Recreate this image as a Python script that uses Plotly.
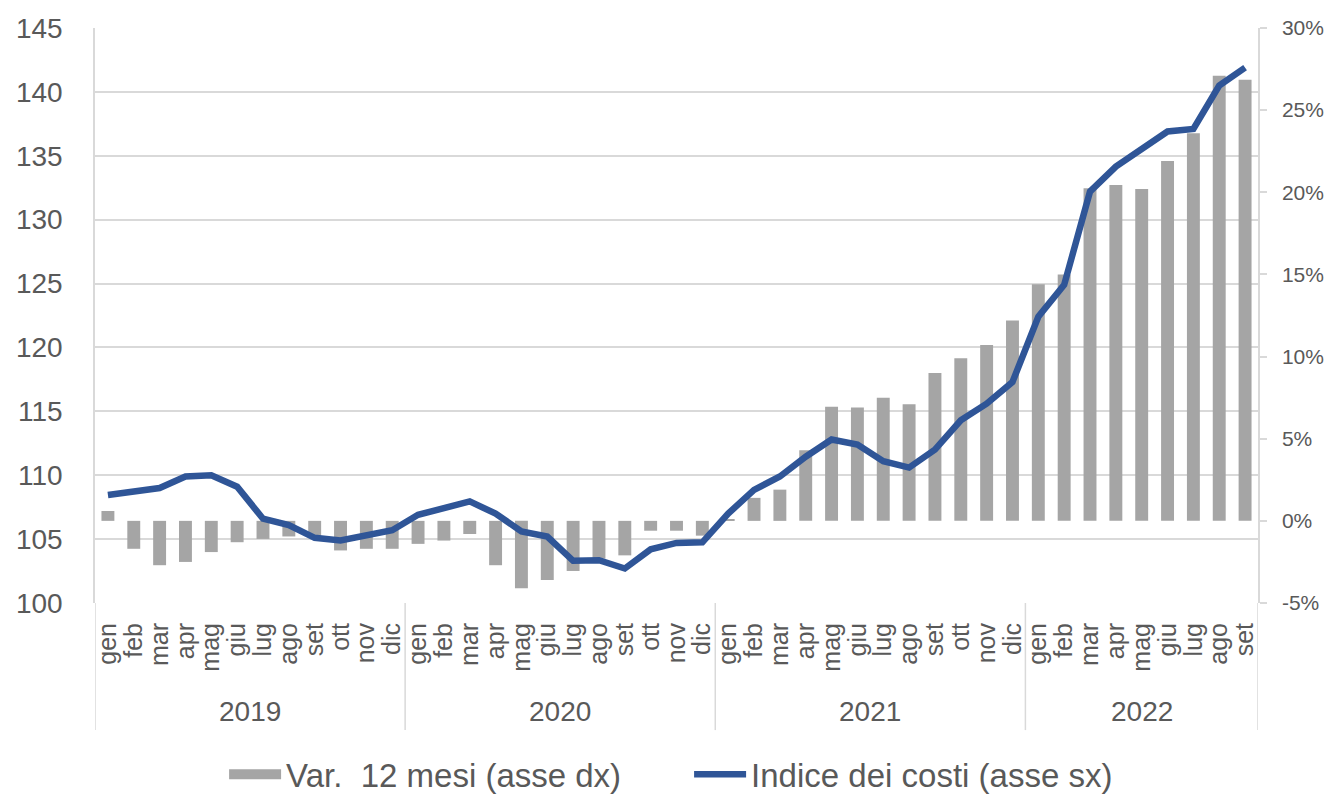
import plotly.graph_objects as go

years = ["2019", "2020", "2021", "2022"]
months_per_year = [12, 12, 12, 9]
month_names = ["gen", "feb", "mar", "apr", "mag", "giu", "lug", "ago", "set", "ott", "nov", "dic"]

# Var. 12 mesi (asse dx), percent
var_12m = [
    0.6, -1.7, -2.7, -2.5, -1.9, -1.3, -1.1, -0.95, -1.0, -1.8, -1.7, -1.7,
    -1.4, -1.2, -0.8, -2.7, -4.1, -3.6, -3.05, -2.3, -2.1, -0.6, -0.6, -0.9,
    0.1, 1.4, 1.9, 4.3, 6.95, 6.9, 7.5, 7.1, 9.0, 9.9, 10.7, 12.2,
    14.4, 15.0, 20.25, 20.45, 20.2, 21.9, 23.6, 27.1, 26.85,
]

# Indice dei costi (asse sx)
indice = [
    108.45, 108.75, 109.0, 109.9, 110.0, 109.1, 106.6, 106.1, 105.1, 104.9, 105.3, 105.7,
    106.9, 107.4, 107.95, 107.0, 105.6, 105.2, 103.3, 103.35, 102.7, 104.2, 104.7, 104.75,
    107.0, 108.85, 109.9, 111.45, 112.8, 112.4, 111.1, 110.6, 112.0, 114.3, 115.6, 117.3,
    122.4, 124.9, 132.2, 134.15, 135.45, 136.9, 137.1, 140.5, 141.9,
]

# right-axis tick labels
pct_ticks = [-5, 0, 5, 10, 15, 20, 25, 30]
pct_tick_labels = ["-5%", "0%", "5%", "10%", "15%", "20%", "25%", "30%"]

labels = [m for n in months_per_year for m in month_names[:n]]
xs = list(range(len(labels)))
var_frac = [v / 100 for v in var_12m]

FONT = "Liberation Sans, Arial, sans-serif"
TXT = "#595959"
GRID = "#D9D9D9"
BAR = "#A5A5A5"
LINE = "#2F5597"
NAME_BAR = "Var.\u00a0 12 mesi (asse dx)"
NAME_LINE = "Indice dei costi (asse sx)"

fig = go.Figure()
fig.add_trace(go.Bar(
    x=xs, y=var_frac, name=NAME_BAR,
    marker=dict(color=BAR, line=dict(width=0)), yaxis="y", showlegend=False,
))
# legend entry for the bars, drawn as a wide grey block like the original
fig.add_trace(go.Scatter(
    x=[None], y=[None], name=NAME_BAR, mode="lines",
    line=dict(color=BAR, width=18), yaxis="y", hoverinfo="skip",
))
fig.add_trace(go.Scatter(
    x=xs, y=indice, name=NAME_LINE, mode="lines",
    line=dict(color=LINE, width=6.5), yaxis="y2",
))

# year dividers and labels (category axis grouping)
shapes = []
annotations = []
start = 0
edges = [-0.5]
for yr, n in zip(years, months_per_year):
    annotations.append(dict(
        x=start + (n - 1) / 2, y=-0.188, xref="x", yref="paper",
        text=yr, showarrow=False, font=dict(family=FONT, size=28, color=TXT),
        yanchor="middle",
    ))
    start += n
    edges.append(start - 0.5)
for e in edges:
    shapes.append(dict(
        type="line", xref="x", yref="paper", x0=e, x1=e, y0=0, y1=-0.221,
        line=dict(color=GRID, width=1.5),
    ))

fig.update_layout(
    width=1324, height=796,
    margin=dict(l=95, r=66, t=28, b=193, autoexpand=False),
    paper_bgcolor="white", plot_bgcolor="white",
    font=dict(family=FONT, color=TXT),
    bargap=0.5,
    showlegend=True,
    legend=dict(
        orientation="h", x=0.111, xanchor="left", y=-0.298, yanchor="middle",
        font=dict(family=FONT, size=33, color=TXT), itemwidth=52,
        entrywidth=398, traceorder="normal", tracegroupgap=0,
    ),
    xaxis=dict(
        range=[-0.5, len(xs) - 0.5], tickmode="array", tickvals=xs, ticktext=labels,
        tickangle=-90, tickfont=dict(family=FONT, size=25, color=TXT),
        showgrid=False, zeroline=False, showline=False, ticks="",
        ticklabelstandoff=14,
    ),
    yaxis=dict(
        side="right", range=[-0.05, 0.30],
        tickmode="array", tickvals=[t / 100 for t in pct_ticks], ticktext=pct_tick_labels,
        tickfont=dict(family=FONT, size=21, color=TXT),
        showgrid=False, zeroline=False, showline=True, linecolor=GRID, linewidth=1.5,
        ticks="outside", ticklen=7, tickcolor=GRID, tickwidth=1.5,
        ticklabelstandoff=11,
    ),
    yaxis2=dict(
        side="left", overlaying="y", range=[100, 145], dtick=5,
        tickfont=dict(family=FONT, size=28, color=TXT),
        showgrid=True, gridcolor=GRID, gridwidth=1.5, zeroline=False,
        showline=True, linecolor=GRID, linewidth=1.5, ticks="", ticklabelstandoff=25,
    ),
    shapes=shapes,
    annotations=annotations,
)

fig.write_html(
    "out.html",
    config={"displayModeBar": False},
    post_script="document.body.style.margin='0px';",
)
